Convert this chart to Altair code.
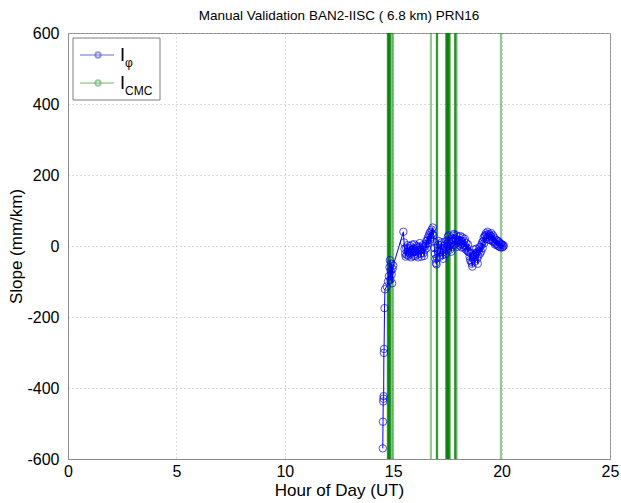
import altair as alt
import pandas as pd

FONT = "Liberation Sans"

# ---- I_phi : early (steep) part ----
phi_early_hours = [14.52, 14.53, 14.54, 14.55, 14.56, 14.57, 14.58, 14.60, 14.62, 14.70,
                   14.76, 14.80, 14.83, 14.85, 14.87, 14.89, 14.91, 14.93, 14.95, 14.97,
                   15.00, 15.47]
phi_early_slope = [-570, -495, -438, -430, -423, -301, -290, -175, -122, -114,
                   -100, -85, -60, -40, -95, -70, -50, -80, -105, -65,
                   -55, 40]

# ---- I_phi : dense part, one value every 0.025 h from 15.50 h ----
phi_dense_start = 15.50
phi_dense_step = 0.025
phi_dense_slope = [
    10, -8, -22, -30, -5, -25, 2, -15, -28, -6,
    -20, 0, -24, -32, -10, 4, -18, -28, -8, 5,
    -14, -28, -16, 0, -6, -24, -32, -12, -2, 8,
    -10, -22, -30, -8, 2, -4, -20, -28, -12, 0,
    6, 14, -6, 16, 24, 8, 30, 36, 18, 40,
    24, 46, 34, 52, 30, 12, -6, -22, -36, -48,
    -52, -34, -14, 4, 14, -12, -30, -18, 4, 10,
    -10, -26, -36, -16, 0, 12, -4, -22, -12, 6,
    16, 26, 30, 12, 0, -10, 6, -16, -2, 12,
    20, 30, 34, 16, 4, 20, 30, 8, -2, 14,
    18, 26, 2, 16, 28, 6, -4, 14, 24, 2,
    -4, 14, 20, 0, -10, 8, -6, -14, 4, -16,
    -18, -30, -40, -20, -44, -50, -58, -36, -26, -10,
    -30, -44, -24, -8, -18, -36, -50, -28, -14, -4,
    -22, -2, -16, 4, 10, -6, 14, 24, 8, 28,
    30, 36, 20, 32, 40, 26, 18, 34, 30, 16,
    28, 36, 20, 14, 30, 12, 24, 10, 4, 18,
    6, 16, 2, 14, 0, 12, -2, 8, -4, 6,
    4, -4, 3, -2, 1,
]

# ---- I_CMC : epochs where the (off-scale) CMC trace crosses the plot ----
cmc_hours = [14.76, 14.76, 14.76, 14.80, 14.80, 14.85, 14.85, 14.85, 14.93, 14.99,
             16.74, 17.02, 17.02, 17.02,
             17.45, 17.45, 17.48, 17.48, 17.52, 17.52, 17.52, 17.56, 17.56, 17.60, 17.60,
             17.86, 17.86, 17.86, 17.92, 19.97]

x_ticks = [0, 5, 10, 15, 20, 25]
y_ticks = [-600, -400, -200, 0, 200, 400, 600]

dense_hours = [round(phi_dense_start + phi_dense_step * i, 3) for i in range(len(phi_dense_slope))]
phi = pd.DataFrame({"hour": phi_early_hours + dense_hours,
                    "slope": phi_early_slope + phi_dense_slope})
cmc = pd.DataFrame({"hour": cmc_hours})

BLUE = "#0000ff"
GREEN = "#008000"

xscale = alt.Scale(domain=[0, 25], nice=False, zero=False)
yscale = alt.Scale(domain=[-600, 600], nice=False)

xaxis = alt.Axis(values=x_ticks, title="Hour of Day (UT)", labelExpr="'' + datum.value")
yaxis = alt.Axis(values=y_ticks, title="Slope (mm/km)", labelExpr="'' + datum.value")

rules = alt.Chart(cmc).mark_rule(color=GREEN, strokeWidth=2.2, opacity=0.42).encode(
    x=alt.X("hour:Q", scale=xscale, axis=xaxis)
)

line = alt.Chart(phi).mark_line(color=BLUE, strokeWidth=1).encode(
    x=alt.X("hour:Q", scale=xscale, axis=xaxis),
    y=alt.Y("slope:Q", scale=yscale, axis=yaxis),
)
points = alt.Chart(phi).mark_point(shape="circle", filled=False, color=BLUE, size=56,
                                   strokeWidth=1).encode(
    x=alt.X("hour:Q", scale=xscale, axis=xaxis),
    y=alt.Y("slope:Q", scale=yscale, axis=yaxis),
)

# ---- legend drawn by hand (MATLAB style with subscripts) ----
one = alt.Data(values=[{}])
leg_box = alt.Chart(one).mark_rect(fill="white", stroke="#7f7f7f", strokeWidth=1).encode(
    x=alt.value(5), x2=alt.value(92), y=alt.value(5), y2=alt.value(67))
leg_l1 = alt.Chart(one).mark_rule(color="#6a6acf", strokeWidth=1).encode(
    x=alt.value(12), x2=alt.value(46), y=alt.value(22))
leg_p1 = alt.Chart(one).mark_point(shape="circle", filled=False, color="#6a6acf", size=28).encode(
    x=alt.value(30), y=alt.value(22))
leg_l2 = alt.Chart(one).mark_rule(color="#6fb46f", strokeWidth=1).encode(
    x=alt.value(12), x2=alt.value(46), y=alt.value(50))
leg_p2 = alt.Chart(one).mark_point(shape="circle", filled=False, color="#6fb46f", size=28).encode(
    x=alt.value(30), y=alt.value(50))
leg_i1 = alt.Chart(one).mark_text(text="I", font=FONT, fontSize=18, align="left",
                                  baseline="alphabetic", color="black").encode(
    x=alt.value(52), y=alt.value(28))
leg_s1 = alt.Chart(one).mark_text(text="φ", font=FONT, fontSize=12, align="left",
                                  baseline="alphabetic", color="black").encode(
    x=alt.value(57), y=alt.value(34))
leg_i2 = alt.Chart(one).mark_text(text="I", font=FONT, fontSize=18, align="left",
                                  baseline="alphabetic", color="black").encode(
    x=alt.value(52), y=alt.value(56))
leg_s2 = alt.Chart(one).mark_text(text="CMC", font=FONT, fontSize=12, align="left",
                                  baseline="alphabetic", color="black").encode(
    x=alt.value(57), y=alt.value(62))

chart = alt.layer(
    rules, line, points,
    leg_box, leg_l1, leg_p1, leg_l2, leg_p2, leg_i1, leg_s1, leg_i2, leg_s2,
).properties(
    width=542,
    height=426,
    title=alt.TitleParams("Manual Validation BAN2-IISC ( 6.8 km) PRN16", offset=3),
    autosize=alt.AutoSizeParams(type="none"),
    padding={"left": 68, "top": 33, "right": 11, "bottom": 44},
).configure_view(
    stroke="#8c8c8c", strokeWidth=1
).configure_axis(
    labelFont=FONT, titleFont=FONT, labelFontSize=16, titleFontSize=17,
    labelColor="black", titleColor="black", titleFontWeight="normal",
    grid=True, gridColor="#b4b4b4", gridDash=[1, 3], gridWidth=1,
    domainColor="#8c8c8c", tickSize=0,
).configure_axisX(
    labelPadding=4, titlePadding=3, labelFlush=False
).configure_axisY(
    labelPadding=9, titlePadding=1
).configure_title(
    font=FONT, fontSize=13.5, fontWeight="normal", color="black", anchor="middle"
)

chart.save("out.html", embed_options={"renderer": "svg", "actions": False})
